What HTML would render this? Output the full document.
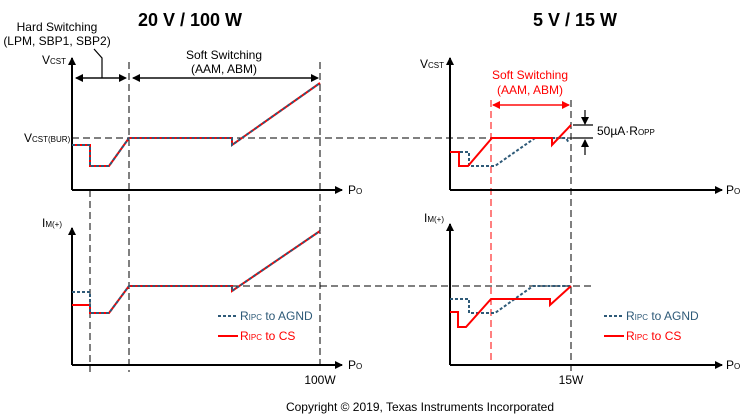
<!DOCTYPE html><html><head><style>body{margin:0;background:#fff}svg{display:block;font-family:"Liberation Sans",Arial,sans-serif}</style></head><body>
<svg width="741" height="417" viewBox="0 0 741 417">
<defs><marker id="a" markerWidth="8" markerHeight="8" refX="7" refY="4" orient="auto" markerUnits="userSpaceOnUse"><path d="M0,0L8,4L0,8z" fill="#000"/></marker>
<marker id="ar" markerWidth="8" markerHeight="8" refX="7" refY="4" orient="auto" markerUnits="userSpaceOnUse"><path d="M0,0L8,4L0,8z" fill="red"/></marker></defs>
<g font-size="18" font-weight="bold" text-anchor="middle"><text x="190" y="26">20 V / 100 W</text><text x="575" y="26">5 V / 15 W</text></g>
<g stroke="#000" stroke-width="1.2" stroke-dasharray="7,4" fill="none" shape-rendering="crispEdges">
<path d="M90,190V372M129,62V372M320,62V365M571,100V372M72,138H592M232,286H592"/></g>
<path d="M491,100V365" stroke="red" stroke-width="1.2" stroke-dasharray="7,4" shape-rendering="crispEdges"/>
<g stroke="#000" stroke-width="2" fill="none">
<path d="M72,190V58" marker-end="url(#a)"/><path d="M72,190H342" marker-end="url(#a)"/>
<path d="M72,365V228" marker-end="url(#a)"/><path d="M72,365H342" marker-end="url(#a)"/>
<path d="M450,190V58" marker-end="url(#a)"/><path d="M450,190H722" marker-end="url(#a)"/>
<path d="M450,365V224" marker-end="url(#a)"/><path d="M450,365H722" marker-end="url(#a)"/>
</g>
<g stroke="#000" stroke-width="1.2" fill="none">
<path d="M76,78H126" marker-end="url(#a)"/><path d="M124,78H76" marker-end="url(#a)"/>
<path d="M133,78H318" marker-end="url(#a)"/><path d="M316,78H133" marker-end="url(#a)"/>
<path d="M102,78V58L94,49"/>
<path d="M585,110V124" marker-end="url(#a)"/><path d="M585,155V140" marker-end="url(#a)"/>
<path d="M573,125H593M573,138H593"/></g>
<path d="M493,105H569" stroke="red" stroke-width="1.2" marker-end="url(#ar)"/><path d="M569,105H493" stroke="red" stroke-width="1.2" marker-end="url(#ar)"/>
<g fill="none" stroke-width="2">
<path d="M72,145H90V166H109L129,138H232V145L320,83" stroke="red"/>
<path d="M72,145H90V166H109L129,138H232V145L320,83" stroke="#2e5a78" stroke-dasharray="3,2"/>
<path d="M72,305H90V313H109L129,286H232V291L320,231" stroke="red"/>
<path d="M72,292H90V313H109L129,286H232V291L320,231" stroke="#2e5a78" stroke-dasharray="3,2"/>
<path d="M450,152H469V166H495L535,138H566L569,143" stroke="#2e5a78" stroke-dasharray="3,2"/>
<path d="M450,152H459V166H468L492,138H552V145L571,125" stroke="red"/>
<path d="M450,299H469V313H495L533,286H571" stroke="#2e5a78" stroke-dasharray="3,2"/>
<path d="M450,312H458V327H466L491,299H550V305L571,286" stroke="red"/>
<path d="M218,316H238M604,316H624" stroke="#2e5a78" stroke-dasharray="3,2"/>
<path d="M218,336H238M604,336H624" stroke="red"/></g>
<g font-size="12">
<text x="57" y="31" text-anchor="middle">Hard Switching</text><text x="57" y="45" text-anchor="middle">(LPM, SBP1, SBP2)</text>
<text x="224" y="59" text-anchor="middle">Soft Switching</text><text x="224" y="73" text-anchor="middle">(AAM, ABM)</text>
<text x="530" y="79" text-anchor="middle" fill="red">Soft Switching</text><text x="530" y="94" text-anchor="middle" fill="red">(AAM, ABM)</text>
<text x="42" y="64">V<tspan font-size="8">CST</tspan></text>
<text x="420" y="68">V<tspan font-size="8">CST</tspan></text>
<text x="24" y="142">V<tspan font-size="8">CST(BUR)</tspan></text>
<text x="42" y="227">I<tspan font-size="8">M(+)</tspan></text>
<text x="424" y="222">I<tspan font-size="8">M(+)</tspan></text>
<text x="348" y="194">P<tspan font-size="8">O</tspan></text><text x="348" y="369">P<tspan font-size="8">O</tspan></text>
<text x="726" y="194">P<tspan font-size="8">O</tspan></text><text x="726" y="369">P<tspan font-size="8">O</tspan></text>
<text x="597" y="135">50µA·R<tspan font-size="8">OPP</tspan></text>
<text x="240" y="320" fill="#2e5a78">R<tspan font-size="8">IPC</tspan> to AGND</text>
<text x="240" y="340" fill="red">R<tspan font-size="8">IPC</tspan> to CS</text>
<text x="626" y="320" fill="#2e5a78">R<tspan font-size="8">IPC</tspan> to AGND</text>
<text x="626" y="340" fill="red">R<tspan font-size="8">IPC</tspan> to CS</text>
<text x="320" y="384" text-anchor="middle">100W</text><text x="571" y="384" text-anchor="middle">15W</text>
<text x="420" y="411" text-anchor="middle">Copyright © 2019, Texas Instruments Incorporated</text>
</g></svg></body></html>
